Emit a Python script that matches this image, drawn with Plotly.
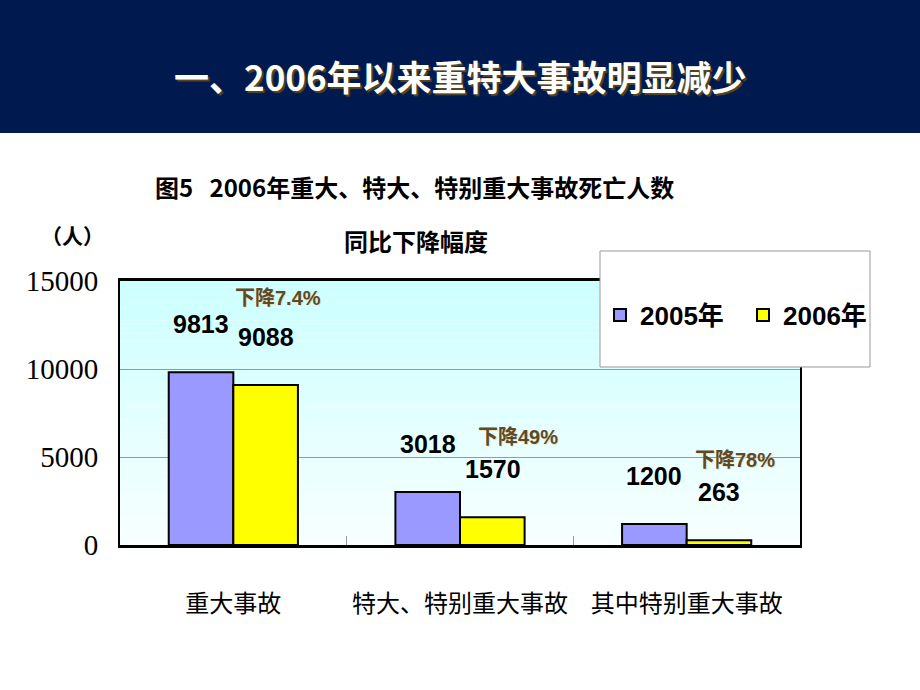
import plotly.graph_objects as go

categories = ["重大事故", "特大、特别重大事故", "其中特别重大事故"]
deaths_2005 = [9813, 3018, 1200]
deaths_2006 = [9088, 1570, 263]
decline_labels = ["下降7.4%", "下降49%", "下降78%"]
series_names = ["2005年", "2006年"]
y_ticks = [0, 5000, 10000, 15000]

W, H = 920, 690
def px(x): return x / W
def py(y): return 1 - y / H

CJK = "Noto Sans CJK SC"
NARROW = "Liberation Sans Narrow, Arial Narrow, Liberation Sans, Noto Sans CJK SC, sans-serif"

fig = go.Figure()
fig.add_trace(go.Bar(x=categories, y=deaths_2005, name=series_names[0],
                     marker=dict(color="#9999ff", line=dict(color="black", width=2))))
fig.add_trace(go.Bar(x=categories, y=deaths_2006, name=series_names[1],
                     marker=dict(color="#ffff00", line=dict(color="black", width=2))))

shapes = []
shapes.append(dict(type="rect", xref="paper", yref="paper", x0=0, x1=1, y0=py(133), y1=1,
                   fillcolor="#001a50", line=dict(width=0), layer="below"))
top, bot = 281, 545
n = 40
for i in range(n):
    t = i / (n - 1)
    g = int(204 + (248 - 204) * t)
    y0 = top + (bot - top) * i / n
    y1 = top + (bot - top) * (i + 1) / n
    shapes.append(dict(type="rect", xref="paper", yref="paper", x0=px(120), x1=px(800),
                       y0=py(y1), y1=py(y0), fillcolor=f"rgb({g},255,255)",
                       line=dict(width=0), layer="below"))
shapes.append(dict(type="rect", xref="paper", yref="paper", x0=px(600), x1=px(870),
                   y0=py(367), y1=py(251), fillcolor="white",
                   line=dict(color="#999999", width=1), layer="above"))

annotations = []
annotations.append(dict(text="一、2006年以来重特大事故明显减少", x=0.5, y=py(75), xref="paper", yref="paper",
                        showarrow=False, xanchor="center", yanchor="middle",
                        font=dict(family=CJK, size=35, color="white", weight="bold",
                                  shadow="2px 2px 1px #5a4520")))
annotations.append(dict(text="图5   2006年重大、特大、特别重大事故死亡人数", x=px(414), y=py(186),
                        xref="paper", yref="paper", showarrow=False, xanchor="center", yanchor="middle",
                        font=dict(family=CJK, size=24, color="black", weight="bold")))
annotations.append(dict(text="同比下降幅度", x=px(416), y=py(240),
                        xref="paper", yref="paper", showarrow=False, xanchor="center", yanchor="middle",
                        font=dict(family=CJK, size=24, color="black", weight="bold")))
annotations.append(dict(text="（人）", x=px(72), y=py(235),
                        xref="paper", yref="paper", showarrow=False, xanchor="center", yanchor="middle",
                        font=dict(family=CJK, size=21, color="black", weight="bold")))

bar_off = 32.5
for c, v in zip(categories, deaths_2005):
    annotations.append(dict(text=str(v), x=c, y=v, xref="x", yref="y", xshift=-bar_off, yshift=48,
                            showarrow=False, yanchor="middle",
                            font=dict(family=NARROW, size=25, color="black", weight="bold")))
for c, v in zip(categories, deaths_2006):
    annotations.append(dict(text=str(v), x=c, y=v, xref="x", yref="y", xshift=bar_off, yshift=48,
                            showarrow=False, yanchor="middle",
                            font=dict(family=NARROW, size=25, color="black", weight="bold")))
decl_shift = [(45, 87), (58, 80), (48, 80)]
for c, v, lab, (dx, dy) in zip(categories, deaths_2006, decline_labels, decl_shift):
    annotations.append(dict(text=lab, x=c, y=v, xref="x", yref="y", xshift=dx, yshift=dy,
                            showarrow=False, yanchor="middle",
                            font=dict(family="Liberation Sans, " + CJK, size=20, color="#5c4a28",
                                      weight="bold", shadow="1px 1px 1px #e8e0c8")))

fig.update_layout(
    template="none",
    width=W, height=H, margin=dict(l=0, r=0, t=0, b=0, autoexpand=False),
    paper_bgcolor="white", plot_bgcolor="rgba(0,0,0,0)",
    barmode="group", bargap=0.43, bargroupgap=0,
    shapes=shapes, annotations=annotations,
    showlegend=True,
    legend=dict(orientation="h", x=px(600), y=py(315), xanchor="left", yanchor="middle",
                bgcolor="rgba(0,0,0,0)", borderwidth=0, entrywidth=98,
                font=dict(family=NARROW, size=26, color="black", weight="bold"),
                itemsizing="constant"),
    xaxis=dict(domain=[px(120), px(800)], automargin=False, tickangle=0,
               showline=True, linecolor="black", linewidth=2.5,
               mirror=True, ticks="inside", tickson="boundaries", ticklen=9, tickcolor="#999999",
               showgrid=False, zeroline=False,
               tickfont=dict(family=CJK, size=24, color="black"), ticklabelstandoff=35),
    yaxis=dict(domain=[py(545), py(281)], range=[0, 15000], automargin=False,
               tickvals=y_ticks, ticktext=[str(v) for v in y_ticks],
               showline=True, linecolor="black", linewidth=2, mirror=True, ticks="",
               showgrid=True, gridcolor="#999999", gridwidth=1, zeroline=False,
               tickfont=dict(family="Liberation Serif, serif", size=29, color="black"),
               ticklabelstandoff=14),
)

fig.write_html("out.html")
